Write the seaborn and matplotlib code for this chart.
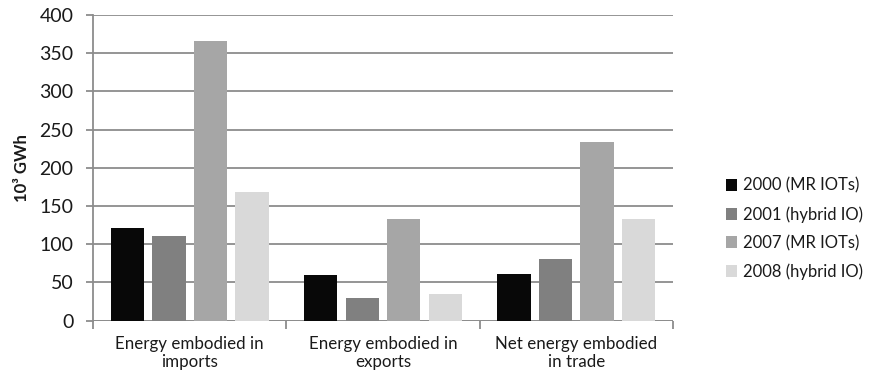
import matplotlib.pyplot as plt
import seaborn as sns
import pandas as pd
import numpy as np

# DATA
categories = ["Energy embodied in\nimports", "Energy embodied in\nexports", "Net energy embodied\nin trade"]
series = ["2000 (MR IOTs)", "2001 (hybrid IO)", "2007 (MR IOTs)", "2008 (hybrid IO)"]
v2000 = [121, 60, 61]
v2001 = [110, 30, 80]
v2007 = [366, 133, 234]
v2008 = [168, 35, 133]
colors = ["#080808", "#808080", "#a6a6a6", "#d9d9d9"]

df = pd.DataFrame({
    "cat": categories * 4,
    "series": np.repeat(series, 3),
    "value": v2000 + v2001 + v2007 + v2008,
})

sns.set_theme(style="white")
plt.rcParams["font.family"] = ["Lato", "DejaVu Sans"]

fig = plt.figure(figsize=(8.73, 3.87), dpi=100)
ax = fig.add_axes([93 / 873, 1 - 320.5 / 387, 580 / 873, 305.5 / 387])

sns.barplot(data=df, x="cat", y="value", hue="series", palette=colors,
            width=0.862, gap=0.2, ax=ax, edgecolor="none", saturation=1)

ax.set_ylim(0, 400)
ax.set_xlim(-0.5, 2.5)
ax.set_yticks(range(0, 401, 50))
ax.yaxis.grid(True, color="#8c8c8c", linewidth=1.3)
ax.set_axisbelow(True)
for s in ["top", "right", "bottom"]:
    ax.spines[s].set_visible(False)
ax.spines["left"].set_color("#8c8c8c")
ax.spines["left"].set_linewidth(1.3)

ax.set_xticks([0, 1, 2])
ax.set_xticklabels(categories, fontsize=12.2, color="#1a1a1a", linespacing=1.2)
ax.set_xticks([-0.5, 0.5, 1.5, 2.5], minor=True)
ax.tick_params(axis="x", which="major", length=0, pad=11)
ax.tick_params(axis="x", which="minor", length=6, width=1.3, color="#8c8c8c", direction="out", bottom=True)
ax.tick_params(axis="y", length=5, width=1.3, color="#8c8c8c", direction="out", left=True,
               labelsize=14, labelcolor="#1a1a1a", pad=9)

# baseline
ax.axhline(0, color="#8c8c8c", linewidth=1.3, zorder=0)

ax.set_xlabel("")
ax.set_ylabel("10³ GWh", fontsize=12, fontweight="bold", color="#1a1a1a", labelpad=7)

leg = ax.legend(loc="center left", bbox_to_anchor=(1.091, 0.30), frameon=False,
                fontsize=12, handlelength=0.7, handleheight=0.7, handletextpad=0.35,
                labelspacing=0.74, borderaxespad=0, borderpad=0)
for t in leg.get_texts():
    t.set_color("#1a1a1a")

fig.savefig("out.png", dpi=100)
